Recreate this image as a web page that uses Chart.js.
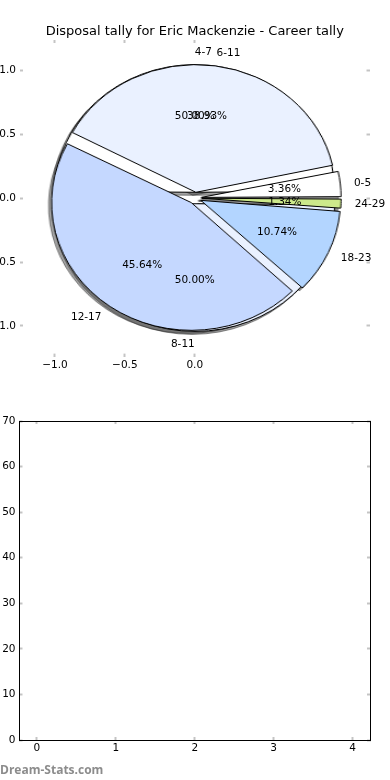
<!DOCTYPE html>
<html>
<head>
<meta charset="utf-8">
<script src="https://cdn.jsdelivr.net/npm/chart.js@4.4.0/dist/chart.umd.min.js"></script>
<style>
  body { margin: 0; background: #fff; }
  #page { position: relative; width: 390px; height: 780px; overflow: hidden; background: #fff; }
  #page canvas { position: absolute; }
  #axes { left: -20px; top: 0; }
  #bars { left: 0; top: 400px; }
  #mark { position: absolute; left: 0; top: 761px; font: bold 12px "Open Sans", sans-serif; color: #8c8c8c; }
</style>
</head>
<body>
<div id="page">
  <canvas id="shadowBack" width="390" height="400"></canvas>
  <canvas id="shadowFront" width="390" height="400"></canvas>
  <canvas id="pieBack" width="390" height="400"></canvas>
  <canvas id="pieFront" width="390" height="400"></canvas>
  <canvas id="axes" width="430" height="400"></canvas>
  <canvas id="bars" width="390" height="380"></canvas>
  <div id="mark">Dream-Stats.com</div>
</div>
<script>
// career tally - disposals per game bucket
const pieLabels = ['0-5', '6-11', '12-17', '18-23', '24-29'];
const pieValues = [5, 58, 68, 16, 2];
const pieColors = ['#ffffff', '#eaf1ff', '#c5d8ff', '#b3d5ff', '#cde98b'];

// second pie that sits underneath
const backLabels = ['4-7', '8-11'];
const backValues = [1, 1];
const backColors = ['#ffffff', '#eaf1ff'];

const explode = 0.045;
const shadowColor = 'rgba(70, 70, 70, 0.5)';

const pieXTicks = [-1.0, -0.5, 0.0];
const pieYTicks = [-1.0, -0.5, 0.0, 0.5, 1.0];
const barXTicks = [0, 1, 2, 3, 4];
const barYTicks = [0, 10, 20, 30, 40, 50, 60, 70];

const FONT = { family: 'DejaVu Sans', size: 10.5 };

function tickAxis(position, min, max, ticks, showLabels, size, border, fmt) {
  const horizontal = position === 'top' || position === 'bottom';
  return {
    type: 'linear',
    position: position,
    min: min,
    max: max,
    afterBuildTicks: s => { s.ticks = ticks.map(v => ({ value: v })); },
    afterFit: s => { if (horizontal) s.height = size; else s.width = size; },
    grid: { drawOnChartArea: false, drawTicks: true, tickLength: -3, tickColor: '#c4c4c4', tickWidth: 2 },
    border: { display: border, color: '#000', width: 1 },
    ticks: {
      display: showLabels,
      autoSkip: false,
      maxRotation: 0,
      padding: horizontal ? 5 : 7,
      color: '#000',
      font: FONT,
      callback: fmt
    }
  };
}

function fmtPie(v) {
  return v.toFixed(1).replace('-', '\u2212');
}

// matplotlib style wedge labels, placed in data units
const pieTextPlugin = {
  id: 'pieText',
  afterDraw(chart) {
    const ctx = chart.ctx, xs = chart.scales.x, ys = chart.scales.y;
    ctx.save();
    ctx.font = '10.5px "DejaVu Sans"';
    ctx.fillStyle = '#000';
    ctx.textBaseline = 'middle';
    [[pieLabels, pieValues], [backLabels, backValues]].forEach(([labels, values]) => {
      const total = values.reduce((a, b) => a + b, 0);
      let start = 0;
      values.forEach((v, i) => {
        const frac = v / total;
        const mid = (start + frac / 2) * 2 * Math.PI;
        start += frac;
        const ox = explode * Math.cos(mid), oy = explode * Math.sin(mid);
        const lx = ox + 1.1 * Math.cos(mid), ly = oy + 1.1 * Math.sin(mid);
        ctx.textAlign = lx > 0 ? 'left' : 'right';
        ctx.fillText(labels[i], xs.getPixelForValue(lx), ys.getPixelForValue(ly));
        ctx.textAlign = 'center';
        ctx.fillText((frac * 100).toFixed(2) + '%',
          xs.getPixelForValue(ox + 0.6 * Math.cos(mid)),
          ys.getPixelForValue(oy + 0.6 * Math.sin(mid)));
      });
    });
    ctx.restore();
  }
};

const axesChart = new Chart(document.getElementById('axes'), {
  type: 'scatter',
  data: { datasets: [] },
  options: {
    responsive: false,
    animation: false,
    events: [],
    layout: { padding: { left: 0, right: 40.5, top: 0, bottom: 0 } },
    plugins: {
      legend: { display: false },
      tooltip: { enabled: false },
      title: {
        display: true,
        fullSize: false,
        text: 'Disposal tally for Eric Mackenzie - Career tally',
        color: '#000',
        font: { family: 'DejaVu Sans', size: 13, weight: 'normal', lineHeight: 1.2 },
        padding: { top: 23.5, bottom: 0.9 }
      }
    },
    scales: {
      x: tickAxis('bottom', -1.25, 1.25, pieXTicks, true, 43.4, false, fmtPie),
      x2: tickAxis('top', -1.25, 1.25, pieXTicks, false, 0, false, fmtPie),
      y: tickAxis('left', -1.24, 1.24, pieYTicks, true, 40, false, fmtPie),
      y2: tickAxis('right', -1.24, 1.24, pieYTicks, false, 0, false, fmtPie)
    }
  },
  plugins: [pieTextPlugin]
});

// pie geometry comes from the axes scales (pie is stretched like the axes)
const xs = axesChart.scales.x, ys = axesChart.scales.y;
const unitX = xs.getPixelForValue(1) - xs.getPixelForValue(0);
const unitY = ys.getPixelForValue(0) - ys.getPixelForValue(1);
const cx = xs.getPixelForValue(0) - 20;
const cy = ys.getPixelForValue(0);

// Chart.js moves an arc by offset/4 but also grows it by offset/4*(1-sin(angle));
// pull the radius back so every wedge keeps the pie radius
const keepRadius = {
  id: 'keepRadius',
  afterDatasetsUpdate(chart) {
    chart.getDatasetMeta(0).data.forEach(arc => {
      const fix = 1 - Math.sin(Math.min(Math.PI, arc.circumference));
      arc.outerRadius = unitY - explode * unitY * fix;
    });
  }
};

function makePie(id, labels, values, colors, edge, shift) {
  const canvas = document.getElementById(id);
  canvas.style.left = (cx - 195 + shift[0]) + 'px';
  canvas.style.top = (cy - 200 + shift[1]) + 'px';
  canvas.style.transformOrigin = '195px 200px';
  canvas.style.transform = 'scaleX(' + (unitX / unitY) + ')';
  return new Chart(canvas, {
    type: 'pie',
    data: {
      labels: labels.slice().reverse(),
      datasets: [{
        data: values.slice().reverse(),
        backgroundColor: Array.isArray(colors) ? colors.slice().reverse() : colors,
        borderColor: edge,
        borderWidth: 1,
        offset: 4 * explode * unitY
      }]
    },
    options: {
      responsive: false,
      animation: false,
      events: [],
      rotation: 90,
      radius: unitY,
      layout: { padding: 0 },
      plugins: { legend: { display: false }, tooltip: { enabled: false } }
    },
    plugins: [keepRadius]
  });
}

const shadowShift = [-0.02 * unitX, 0.02 * unitY];
makePie('shadowBack', backLabels, backValues, shadowColor, 'rgba(40,40,40,0.5)', shadowShift);
makePie('shadowFront', pieLabels, pieValues, shadowColor, 'rgba(40,40,40,0.5)', shadowShift);
makePie('pieBack', backLabels, backValues, backColors, '#000', [0, 0]);
makePie('pieFront', pieLabels, pieValues, pieColors, '#000', [0, 0]);

new Chart(document.getElementById('bars'), {
  type: 'scatter',
  data: { datasets: [] },
  options: {
    responsive: false,
    animation: false,
    events: [],
    layout: { padding: { left: 0, right: 20, top: 21, bottom: 0 } },
    plugins: { legend: { display: false }, tooltip: { enabled: false } },
    scales: {
      x: tickAxis('bottom', -0.22, 4.22, barXTicks, true, 40, true, v => String(v)),
      x2: tickAxis('top', -0.22, 4.22, barXTicks, false, 0, true, v => String(v)),
      y: tickAxis('left', 0, 70, barYTicks, true, 19.5, true, v => String(v)),
      y2: tickAxis('right', 0, 70, barYTicks, false, 0, true, v => String(v))
    }
  }
});
</script>
</body>
</html>
